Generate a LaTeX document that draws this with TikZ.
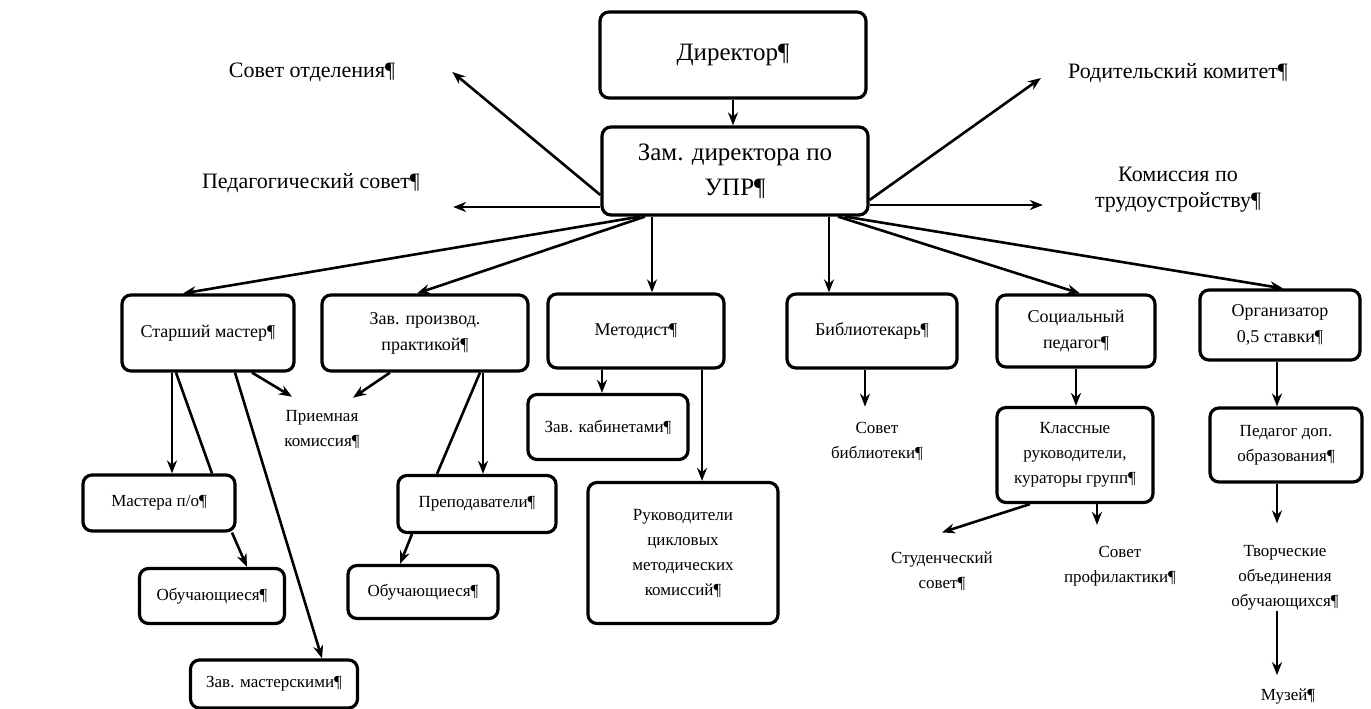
\documentclass[tikz,border=0pt]{standalone}
\usepackage{fontspec}
\setmainfont{Liberation Serif}
\usetikzlibrary{arrows.meta}

\begin{document}
\begin{tikzpicture}[x=1pt, y=-1pt,
	box/.style={draw, rounded corners=9pt, line width=3.2pt, align=center, inner sep=0pt},
	lbl/.style={align=center, inner sep=0pt},
	link/.style={-{Stealth[length=13pt,width=10pt]}, line width=2.6pt},
	plain/.style={line width=2.6pt},
	big/.style={font=\fontsize{25}{35}\selectfont},
	mid/.style={font=\fontsize{22}{26}\selectfont},
	norm/.style={font=\fontsize{18}{26}\selectfont},
	sml/.style={font=\fontsize{17}{25}\selectfont}]

	\useasboundingbox (0,0) rectangle (1371,709);

	% Nodes
	\node[box, big, minimum width=266pt, minimum height=86pt] (dir) at (733,55) {Директор¶};
	\node[box, big, minimum width=266pt, minimum height=88pt] (zam) at (735,171) {Зам. директора по\\УПР¶};

	\node[lbl, mid] (sovotd) at (312,72) {Совет отделения¶};
	\node[lbl, mid] (pedsov) at (311,183) {Педагогический совет¶};
	\node[lbl, mid] (rodkom) at (1178,73) {Родительский комитет¶};
	\node[lbl, mid] (komtrud) at (1178,190) {Комиссия по\\трудоустройству¶};

	\node[box, norm, minimum width=172pt, minimum height=76pt] (stmaster) at (208,333) {Старший мастер¶};
	\node[box, norm, minimum width=206pt, minimum height=76pt] (zavpr) at (425,333) {Зав. производ.\\практикой¶};
	\node[box, norm, minimum width=176pt, minimum height=74pt] (metod) at (636,331) {Методист¶};
	\node[box, norm, minimum width=170pt, minimum height=74pt] (bibl) at (872,331) {Библиотекарь¶};
	\node[box, norm, minimum width=158pt, minimum height=72pt] (socped) at (1076,331) {Социальный\\педагог¶};
	\node[box, norm, minimum width=160pt, minimum height=70pt] (org) at (1280,325) {Организатор\\0,5 ставки¶};

	\node[lbl, sml] (priem) at (322,430) {Приемная\\комиссия¶};
	\node[box, sml, minimum width=160pt, minimum height=65pt] (zavkab) at (608,427) {Зав. кабинетами¶};
	\node[lbl, sml] (sovbib) at (877,441) {Совет\\библиотеки¶};
	\node[box, sml, minimum width=156pt, minimum height=95pt] (klass) at (1075,455) {Классные\\руководители,\\кураторы групп¶};
	\node[box, sml, minimum width=152pt, minimum height=74pt] (pedop) at (1286,445) {Педагог доп.\\образования¶};

	\node[box, sml, minimum width=152pt, minimum height=56pt] (mastpo) at (159,503) {Мастера п/о¶};
	\node[box, sml, minimum width=158pt, minimum height=57pt] (prepod) at (477,504) {Преподаватели¶};
	\node[box, sml, minimum width=190pt, minimum height=141pt] (rukov) at (683,553) {Руководители\\цикловых\\методических\\комиссий¶};
	\node[box, sml, minimum width=145pt, minimum height=55pt] (obuch1) at (212,596) {Обучающиеся¶};
	\node[box, sml, minimum width=150pt, minimum height=53pt] (obuch2) at (423,592) {Обучающиеся¶};
	\node[box, sml, minimum width=167pt, minimum height=48pt] (zavmast) at (274,684) {Зав. мастерскими¶};
	\node[lbl, sml] (studsov) at (942,571) {Студенческий\\совет¶};
	\node[lbl, sml] (sovprof) at (1120,566) {Совет\\профилактики¶};
	\node[lbl, sml] (tvor) at (1285,578) {Творческие\\объединения\\обучающихся¶};
	\node[lbl, sml] (muzei) at (1288,697) {Музей¶};

	% Links
	\draw[link] (dir.south) -- (dir.south |- zam.north);
	\draw[link] ([yshift=-24pt]zam.west) -- ([xshift=57pt]sovotd.east);
	\draw[link] ([yshift=-36pt]zam.west) -- ([xshift=33pt,yshift=-24pt]pedsov.east);
	\draw[link] ([yshift=-29pt]zam.east) -- ([xshift=-27pt,yshift=-5pt]rodkom.west);
	\draw[link] ([yshift=-34pt]zam.east) -- ([xshift=-52pt,yshift=-15pt]komtrud.west);

	\draw[link] ([xshift=-95pt]zam.south) -- ([xshift=-25pt]stmaster.north);
	\draw[link] ([xshift=-90pt]zam.south) -- ([xshift=-8pt]zavpr.north);
	\draw[link] ([xshift=-83pt]zam.south) -- ([xshift=16pt]metod.north);
	\draw[link] ([xshift=94pt]zam.south) -- ([xshift=-43pt]bibl.north);
	\draw[link] ([xshift=103pt]zam.south) -- ([xshift=4pt]socped.north);
	\draw[link] ([xshift=110pt]zam.south) -- ([xshift=3pt]org.north);

	\draw[link] ([xshift=44pt]stmaster.south) -- ([xshift=-30pt,yshift=14pt]priem.north);
	\draw[link] ([xshift=-35pt]zavpr.south) -- ([xshift=31pt,yshift=13pt]priem.north);
	\draw[link] ([xshift=27pt]stmaster.south) -- ([xshift=48pt]zavmast.north);
	\draw[link] ([xshift=-36pt]stmaster.south) -- ([xshift=13pt]mastpo.north);
	\draw[plain] ([xshift=-32pt]stmaster.south) -- ([xshift=53pt]mastpo.north);
	\draw[link] ([xshift=58pt]zavpr.south) -- ([xshift=6pt]prepod.north);
	\draw[plain] ([xshift=55pt]zavpr.south) -- ([xshift=-40pt]prepod.north);
	\draw[link] ([xshift=-34pt]metod.south) -- ([xshift=-6pt]zavkab.north);
	\draw[link] ([xshift=66pt]metod.south) -- ([xshift=19pt]rukov.north);
	\draw[link] ([xshift=-7pt]bibl.south) -- ([xshift=-12pt,yshift=15pt]sovbib.north);
	\draw[link] (socped.south) -- (socped.south |- klass.north);
	\draw[link] ([xshift=-3pt]org.south) -- ([xshift=-9pt]pedop.north);

	\draw[link] ([xshift=73pt]mastpo.south) -- ([xshift=35pt]obuch1.north);
	\draw[link] ([xshift=-65pt]prepod.south) -- ([xshift=-23pt]obuch2.north);
	\draw[link] ([xshift=-45pt]klass.south) -- ([yshift=19pt]studsov.north);
	\draw[link] ([xshift=22pt]klass.south) -- ([xshift=-23pt,yshift=21pt]sovprof.north);
	\draw[link] ([xshift=-9pt]pedop.south) -- ([xshift=-8pt,yshift=22pt]tvor.north);
	\draw[link] ([xshift=-8pt]tvor.south) -- ([xshift=-11pt,yshift=14pt]muzei.north);
\end{tikzpicture}
\end{document}
